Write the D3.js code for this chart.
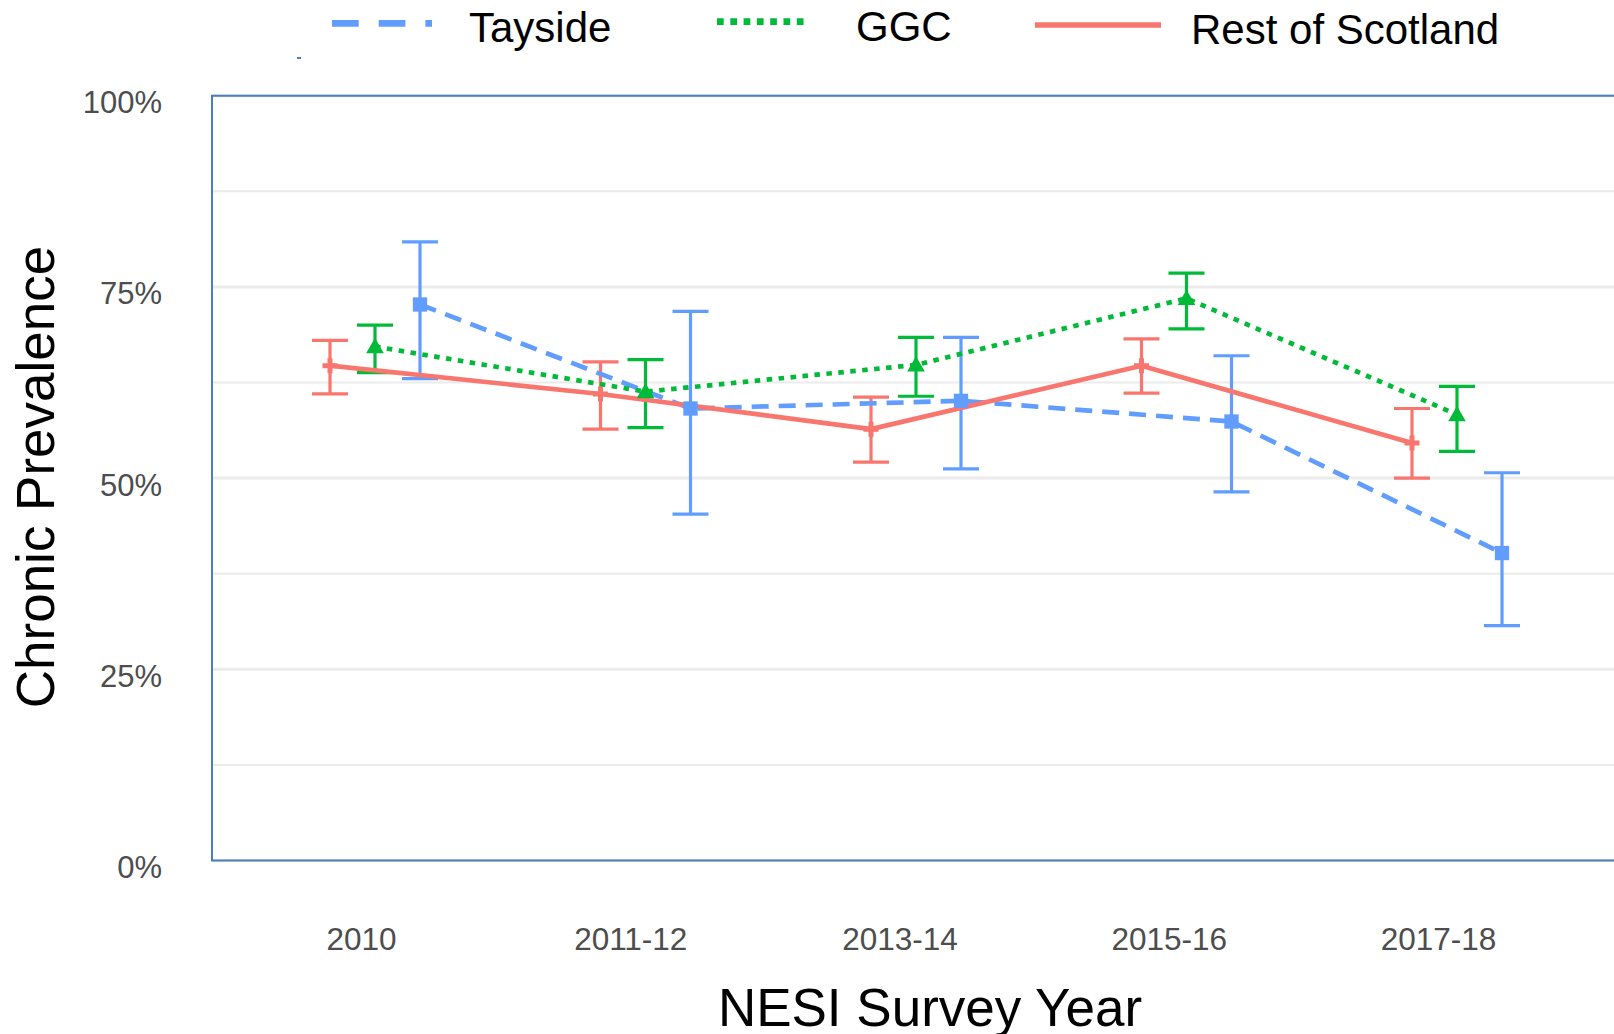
<!DOCTYPE html>
<html>
<head>
<meta charset="utf-8">
<script src="https://cdn.jsdelivr.net/npm/d3@7"></script>
<style>
  html, body { margin: 0; padding: 0; background: #fff; }
  svg { display: block; font-family: "Liberation Sans", Arial, sans-serif; }
</style>
</head>
<body>
<svg id="chart" width="1614" height="1034"></svg>
<script>
// ---------- data ----------
const categories = ["2010", "2011-12", "2013-14", "2015-16", "2017-18"];
const seriesNames = ["Tayside", "GGC", "Rest of Scotland"];

const taysideValues = [72.7, 59.1, 60.1, 57.4, 40.2];
const taysideLower  = [63.0, 45.3, 51.2, 48.2, 30.7];
const taysideUpper  = [80.9, 71.8, 68.4, 66.0, 50.7];

const ggcValues = [67.2, 61.3, 64.8, 73.5, 58.3];
const ggcLower  = [63.8, 56.6, 60.7, 69.5, 53.5];
const ggcUpper  = [70.0, 65.5, 68.4, 76.8, 62.0];

const restValues = [64.7, 61.0, 56.4, 64.7, 54.6];
const restLower  = [61.0, 56.4, 52.1, 61.1, 50.0];
const restUpper  = [68.0, 65.2, 60.6, 68.2, 59.1];

const yMajorTicks = [0, 25, 50, 75, 100];
const yMinorTicks = [12.5, 37.5, 62.5, 87.5];

// ---------- styles ----------
const colors = { "Tayside": "#619CFF", "GGC": "#00BA38", "Rest of Scotland": "#F8766D" };
const dashes = { "Tayside": "17,10", "GGC": "5.5,6.5", "Rest of Scotland": null };
const legendDashes = { "Tayside": "26.7,20", "GGC": "6.7,6.6", "Rest of Scotland": null };

const series = [
  { name: "Tayside", values: taysideValues, lower: taysideLower, upper: taysideUpper, symbol: d3.symbolSquare, size: 205 },
  { name: "GGC", values: ggcValues, lower: ggcLower, upper: ggcUpper, symbol: d3.symbolTriangle, size: 135 },
  { name: "Rest of Scotland", values: restValues, lower: restLower, upper: restUpper, symbol: d3.symbolCross, size: 125 }
];

// ---------- layout ----------
const plotLeft = 212, plotRight = 1614, plotTop = 95.7, plotBottom = 860.5;

const svg = d3.select("#chart");

const y = d3.scaleLinear().domain([0, 100]).range([plotBottom, plotTop]);
const xLabel = d3.scalePoint().domain(categories).range([361, 1438]);
const xData = d3.scalePoint().domain(categories).range([375, 1457]);
const dodge = d3.scalePoint().domain(["Rest of Scotland", "GGC", "Tayside"]).range([-45, 45]);

// gridlines
const grid = svg.append("g");
grid.selectAll("line.minor").data(yMinorTicks).join("line")
  .attr("class", "minor")
  .attr("x1", plotLeft).attr("x2", plotRight)
  .attr("y1", d => y(d)).attr("y2", d => y(d))
  .attr("stroke", "#EBEBEB").attr("stroke-width", 2);
grid.selectAll("line.major").data(yMajorTicks).join("line")
  .attr("class", "major")
  .attr("x1", plotLeft).attr("x2", plotRight)
  .attr("y1", d => y(d)).attr("y2", d => y(d))
  .attr("stroke", "#EBEBEB").attr("stroke-width", 3);

// y axis labels
const yAxis = d3.axisLeft(y).tickValues(yMajorTicks).tickFormat(d => d + "%").tickSize(0).tickPadding(0);
const yAxisG = svg.append("g").attr("transform", `translate(162,0)`).call(yAxis);
yAxisG.select(".domain").remove();
yAxisG.selectAll("text")
  .attr("font-family", "Liberation Sans, Arial, sans-serif")
  .attr("font-size", 31).attr("fill", "#4D4D4D")
  .attr("dy", "0.55em").attr("x", 0);

// x axis labels
const xAxis = d3.axisBottom(xLabel).tickSize(0).tickPadding(0);
const xAxisG = svg.append("g").attr("transform", `translate(0,927)`).call(xAxis);
xAxisG.select(".domain").remove();
xAxisG.selectAll("text")
  .attr("font-family", "Liberation Sans, Arial, sans-serif")
  .attr("font-size", 31.5).attr("fill", "#4D4D4D").attr("dy", "0.72em");

// axis titles
svg.append("text")
  .attr("x", 930).attr("y", 1026)
  .attr("text-anchor", "middle")
  .attr("font-size", 53).attr("fill", "#000")
  .text("NESI Survey Year");
svg.append("text")
  .attr("transform", "translate(54,477) rotate(-90)")
  .attr("text-anchor", "middle")
  .attr("font-size", 53).attr("fill", "#000")
  .text("Chronic Prevalence");

// plot border (blue frame)
svg.append("path")
  .attr("d", `M${plotRight},${plotTop}H${plotLeft}V${plotBottom}H${plotRight}`)
  .attr("fill", "none").attr("stroke", "#4A7EBF").attr("stroke-width", 2);

const px = (s, i) => xData(categories[i]) + dodge(s.name);

// error bars
const capHalf = 18;
const eb = svg.append("g");
series.forEach(s => {
  const g = eb.append("g").attr("stroke", colors[s.name]).attr("stroke-width", 3.2).attr("fill", "none");
  categories.forEach((c, i) => {
    const cx = px(s, i);
    g.append("line").attr("x1", cx).attr("x2", cx).attr("y1", y(s.lower[i])).attr("y2", y(s.upper[i]));
    g.append("line").attr("x1", cx - capHalf).attr("x2", cx + capHalf).attr("y1", y(s.lower[i])).attr("y2", y(s.lower[i]));
    g.append("line").attr("x1", cx - capHalf).attr("x2", cx + capHalf).attr("y1", y(s.upper[i])).attr("y2", y(s.upper[i]));
  });
});

// lines
const lineGen = d3.line().x(d => d[0]).y(d => d[1]);
series.forEach(s => {
  const pts = categories.map((c, i) => [px(s, i), y(s.values[i])]);
  svg.append("path")
    .attr("d", lineGen(pts))
    .attr("fill", "none")
    .attr("stroke", colors[s.name])
    .attr("stroke-width", 4.7)
    .attr("stroke-dasharray", dashes[s.name])
    .attr("stroke-linejoin", "round");
});

// points
series.forEach(s => {
  const sym = d3.symbol().type(s.symbol).size(s.size);
  categories.forEach((c, i) => {
    const cx = px(s, i), cy = y(s.values[i]);
    const dyOff = s.name === "GGC" ? 1.5 : 0;
    svg.append("path").attr("d", sym())
      .attr("transform", `translate(${cx},${cy + dyOff})`)
      .attr("fill", colors[s.name]);
  });
});

// legend
const legendItems = [
  { name: "Tayside", x1: 332, x2: 432, ly: 23.3, tx: 469, ty: 41.5 },
  { name: "GGC", x1: 717, x2: 804, ly: 21.7, tx: 856, ty: 40.5 },
  { name: "Rest of Scotland", x1: 1035, x2: 1161, ly: 25, tx: 1191, ty: 44 }
];
const lg = svg.append("g");
legendItems.forEach(it => {
  lg.append("line")
    .attr("x1", it.x1).attr("x2", it.x2).attr("y1", it.ly).attr("y2", it.ly)
    .attr("stroke", colors[it.name])
    .attr("stroke-width", it.name === "Rest of Scotland" ? 5.5 : 6.7)
    .attr("stroke-dasharray", legendDashes[it.name]);
  lg.append("text")
    .attr("x", it.tx).attr("y", it.ty)
    .attr("font-size", 42).attr("fill", "#000")
    .text(it.name);
});
// small stray mark under legend
svg.append("line").attr("x1", 297).attr("x2", 301).attr("y1", 58).attr("y2", 58)
  .attr("stroke", "#4A7EBF").attr("stroke-width", 2);
</script>
</body>
</html>
